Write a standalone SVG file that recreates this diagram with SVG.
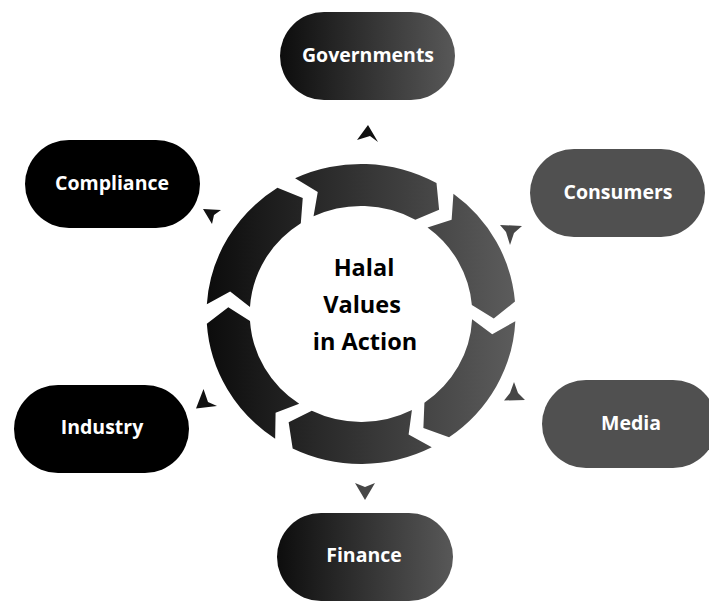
<svg xmlns="http://www.w3.org/2000/svg" width="709" height="601" viewBox="0 0 709 601">
<defs>
<linearGradient id="pillGrad" x1="0" y1="0" x2="1" y2="0">
<stop offset="0" stop-color="#0d0d0d"/>
<stop offset="1" stop-color="#585858"/>
</linearGradient>
<linearGradient id="ringGrad" gradientUnits="userSpaceOnUse" x1="-150" y1="0" x2="150" y2="0">
<stop offset="0" stop-color="#0c0c0c"/>
<stop offset="1" stop-color="#5c5c5c"/>
</linearGradient>
</defs>
<style>
.lbl{font-family:"Open Sans","Liberation Sans",sans-serif;font-weight:bold;font-size:19.5px;fill:#fff;text-anchor:middle}
.ctr{font-family:"Open Sans","Liberation Sans",sans-serif;font-weight:bold;font-size:23.5px;fill:#000;text-anchor:middle}
.dark{fill:#000}
.grey{fill:#505050}
.grad{fill:url(#pillGrad)}
.seg{fill:url(#ringGrad)}
.ahd{fill:#111}
.ahg{fill:#474747}
</style>
<rect width="709" height="601" fill="#fff"/>
<g id="hub">
<g transform="translate(361,314) scale(1.03,1)">
<path class="seg" d="M-63.99,-135.67 A150,150 0 0 1 73.29,-130.88 L75.83,-104.36 L52.77,-94.23 A108,108 0 0 0 -46.07,-97.68 L-42.00,-121.97 Z"/>
<path class="seg" d="M89.75,-120.20 A150,150 0 0 1 149.49,-12.42 L128.92,4.50 L107.63,-8.94 A108,108 0 0 0 64.62,-86.54 L87.98,-94.35 Z"/>
<path class="seg" d="M149.83,7.20 A150,150 0 0 1 85.50,123.24 L60.57,113.89 L61.56,88.73 A108,108 0 0 0 107.88,5.18 L127.41,20.18 Z"/>
<path class="seg" d="M68.68,133.35 A150,150 0 0 1 -66.35,134.53 L-70.25,108.19 L-47.77,96.87 A108,108 0 0 0 49.45,96.01 L46.23,120.43 Z"/>
<path class="seg" d="M-83.34,124.71 A150,150 0 0 1 -149.68,9.81 L-128.82,-6.75 L-107.77,7.06 A108,108 0 0 0 -60.00,89.79 L-82.92,98.81 Z"/>
<path class="seg" d="M-149.68,-9.81 A150,150 0 0 1 -81.14,-126.15 L-56.55,-115.95 L-58.42,-90.83 A108,108 0 0 0 -107.77,-7.06 L-127.04,-22.40 Z"/>
</g>
<text class="ctr" x="364" y="276">Halal</text>
<text class="ctr" x="362" y="313">Values</text>
<text class="ctr" x="365" y="350">in Action</text>
</g>
<g id="governments">
<rect class="grad" x="280" y="12" width="175" height="88" rx="44"/>
<text class="lbl" x="368" y="62">Governments</text>
</g>
<g id="compliance">
<rect class="dark" x="25" y="140" width="175" height="88" rx="44"/>
<text class="lbl" x="112" y="190">Compliance</text>
</g>
<g id="consumers">
<rect class="grey" x="530" y="149" width="175" height="88" rx="44"/>
<text class="lbl" x="618" y="199">Consumers</text>
</g>
<g id="industry">
<rect class="dark" x="14" y="385" width="175" height="88" rx="44"/>
<text class="lbl" x="102" y="434">Industry</text>
</g>
<g id="media">
<rect class="grey" x="542" y="380" width="175" height="88" rx="44"/>
<text class="lbl" x="631" y="430">Media</text>
</g>
<g id="finance">
<rect class="grad" x="277" y="513" width="176" height="88" rx="44"/>
<text class="lbl" x="364" y="562">Finance</text>
</g>
<g id="connectors">
<polygon class="ahd" points="368,125 378,142 370,136 357,140"/>
<polygon class="ahd" points="203,209 221,210 214,215 212,224"/>
<polygon class="ahg" points="500,225 522,226 514,233 510,245 506,232"/>
<polygon class="ahd" points="203.5,389 208,402 217,406 196,408.5"/>
<polygon class="ahg" points="514,382 518,393 525,400 504,400.5 510,393"/>
<polygon class="ahg" points="355,483 365,487 375,483 365,500"/>
</g>
</svg>
